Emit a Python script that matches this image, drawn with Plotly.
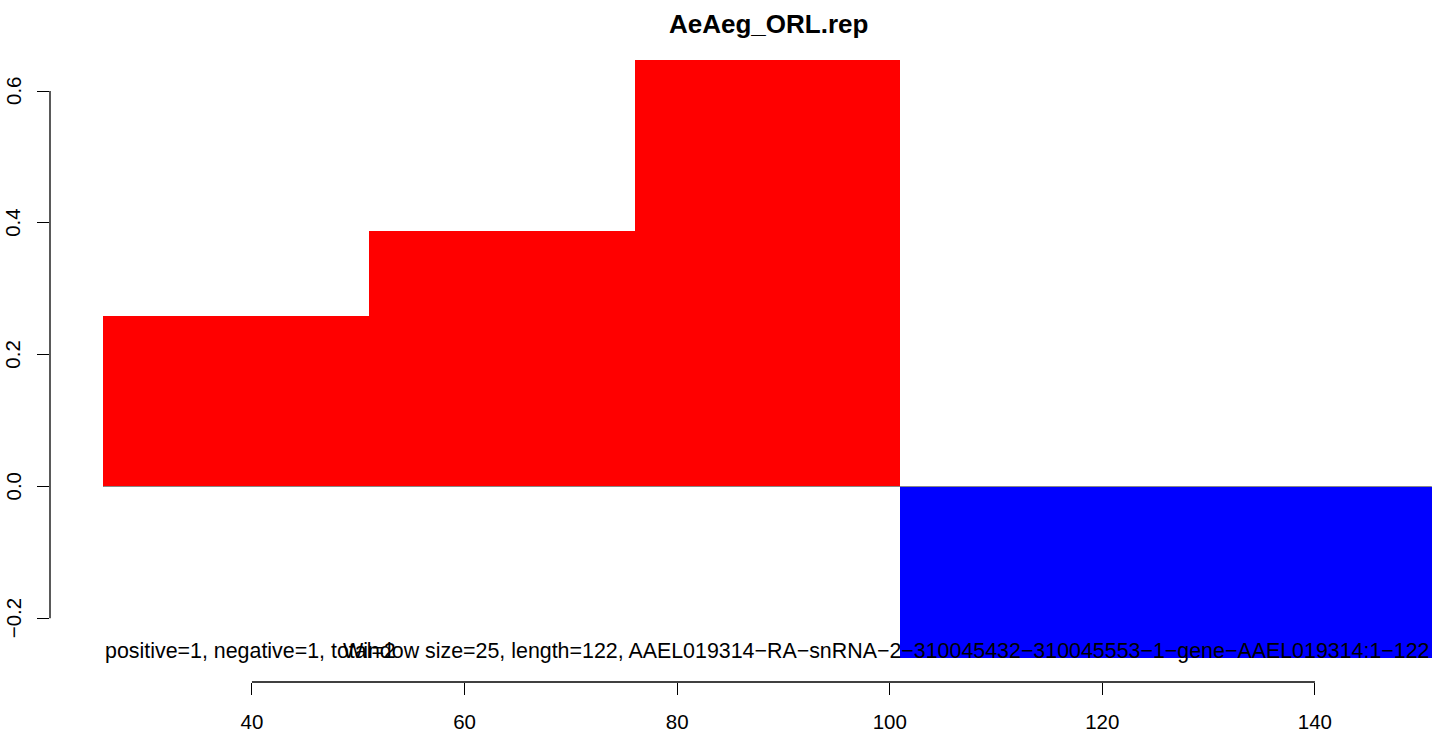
import plotly.graph_objects as go

# Data
win_start = [26, 51, 76, 101, 126]
win_size = 25
values = [0.259, 0.388, 0.647, -0.26, -0.26]
colors = ["red" if v >= 0 else "blue" for v in values]
x_ticks = [40, 60, 80, 100, 120, 140]
y_ticks = [-0.2, 0.0, 0.2, 0.4, 0.6]
y_tick_text = ["\u22120.2", "0.0", "0.2", "0.4", "0.6"]
title_text = "AeAeg_ORL.rep"
left_note = "positive=1, negative=1, total=2"
right_note = ("Window size=25, length=122, AAEL019314\u2212RA\u2212snRNA\u22122\u2212310045432"
              "\u2212310045553\u22121\u2212gene\u2212AAEL019314:1\u2212122")

FONT = "Liberation Sans, Arial, sans-serif"
TICK_SIZE = 20.5
NOTE_SIZE = 21.4

centers = [s + win_size / 2 for s in win_start]
x_end = win_start[-1] + win_size

W, H = 1439, 732
ML, MT, MB = 50, 34, 50
plot_h = H - MT - MB

fig = go.Figure()
fig.add_trace(go.Bar(x=centers, y=values, width=[win_size] * len(values),
                     marker=dict(color=colors, line=dict(width=0)),
                     showlegend=False, hoverinfo="skip"))
fig.add_trace(go.Scatter(x=[win_start[0], x_end], y=[0, 0], mode="lines",
                         line=dict(color="#888888", width=1),
                         showlegend=False, hoverinfo="skip"))

annotations = [
    dict(text="<b>" + title_text + "</b>", xref="paper", yref="paper",
         x=(768 - ML) / (W - ML), y=1 + (MT - 24) / plot_h,
         xanchor="center", yanchor="middle",
         showarrow=False, font=dict(size=26, family=FONT, color="black")),
    dict(text=left_note, xref="x", yref="y", x=win_start[0], y=-0.25,
         xanchor="left", yanchor="middle", showarrow=False,
         font=dict(size=NOTE_SIZE, family=FONT, color="black")),
    dict(text=right_note, xref="x", yref="y", x=x_end, y=-0.25,
         xanchor="right", yanchor="middle", showarrow=False,
         font=dict(size=NOTE_SIZE, family=FONT, color="black")),
]
for v, t in zip(y_ticks, y_tick_text):
    annotations.append(dict(text=t, xref="paper", yref="y", x=0, y=v,
                            xshift=-37, xanchor="center", yanchor="middle",
                            textangle=-90, showarrow=False,
                            font=dict(size=TICK_SIZE, family=FONT, color="black")))

fig.update_layout(
    width=W, height=H,
    margin=dict(l=ML, r=0, t=MT, b=MB, autoexpand=False),
    paper_bgcolor="white", plot_bgcolor="white",
    bargap=0,
    font=dict(family=FONT, size=TICK_SIZE, color="black"),
    xaxis=dict(range=[21, 21 + (W - 50.6) / 10.625], automargin=False,
               tickvals=x_ticks, ticks="outside", ticklen=12, tickwidth=1.3,
               tickcolor="black", showgrid=False, zeroline=False, showline=False,
               ticklabelstandoff=9,
               tickfont=dict(size=TICK_SIZE, family=FONT)),
    yaxis=dict(range=[-0.2966, 0.6865], automargin=False,
               tickvals=y_ticks, showticklabels=False,
               ticks="outside", ticklen=12, tickwidth=1.3, tickcolor="black",
               showgrid=False, zeroline=False, showline=False),
    shapes=[
        dict(type="line", xref="x", yref="paper", x0=x_ticks[0], x1=x_ticks[-1],
             y0=0, y1=0, line=dict(color="black", width=1.3)),
        dict(type="line", xref="paper", yref="y", x0=0, x1=0,
             y0=y_ticks[0], y1=y_ticks[-1], line=dict(color="black", width=1.3)),
    ],
    annotations=annotations,
)

fig.write_html("out.html", config={"displayModeBar": False},
               post_script="document.body.style.margin='0';document.body.style.padding='0';")
